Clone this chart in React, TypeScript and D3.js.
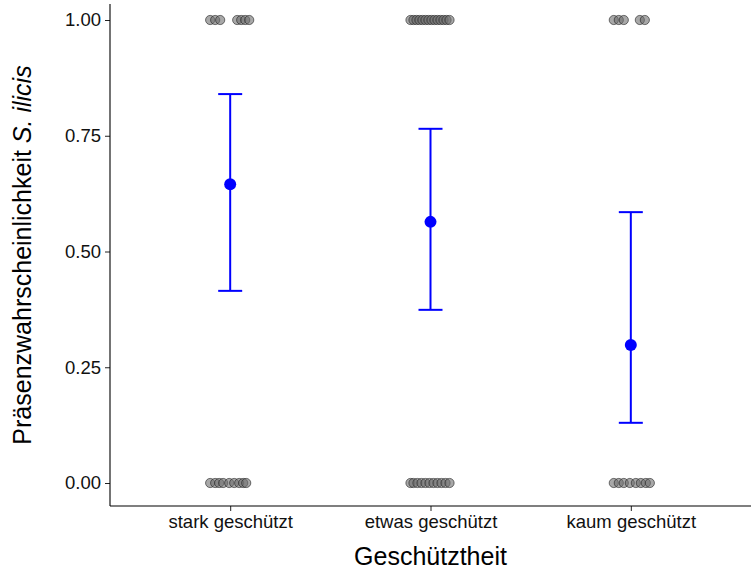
import React, { useEffect, useRef } from 'react';
import * as d3 from 'd3';

// categories on the x axis
const categories = ['stark geschützt', 'etwas geschützt', 'kaum geschützt'];

// model estimate with confidence interval per category
const estimates = [0.645, 0.564, 0.298];
const lowerCI = [0.415, 0.374, 0.13];
const upperCI = [0.84, 0.765, 0.585];

// observed presence (1) / absence (0), jitter offsets in category units
const jitterPresent = [
  [-0.1, -0.075, -0.05, 0.035, 0.055, 0.075, 0.095],
  [-0.1, -0.085, -0.07, -0.055, -0.04, -0.025, -0.01, 0.005, 0.02, 0.035, 0.05, 0.065, 0.08, 0.095],
  [-0.085, -0.06, -0.035, 0.045, 0.07],
];
const jitterAbsent = [
  [-0.1, -0.075, -0.055, -0.035, -0.005, 0.02, 0.045, 0.065, 0.08],
  [-0.1, -0.085, -0.065, -0.045, -0.025, -0.005, 0.015, 0.035, 0.055, 0.075, 0.095],
  [-0.085, -0.06, -0.035, -0.005, 0.025, 0.05, 0.075, 0.095],
];

const yTicks = [0, 0.25, 0.5, 0.75, 1];

const W = 756;
const H = 570;

function App() {
  const ref = useRef<SVGSVGElement>(null);

  useEffect(() => {
    const svg = d3.select(ref.current);
    svg.selectAll('*').remove();

    const left = 110, right = 751, bottom = 506;
    const y = d3.scaleLinear().domain([0, 1]).range([483, 20]);
    const x = d3.scaleLinear().domain([-0.6, 2.6]).range([left, right]);

    const font = 'Liberation Sans, Arial, sans-serif';

    // jittered observations
    const pts: { cx: number; v: number }[] = [];
    categories.forEach((c, i) => {
      jitterPresent[i].forEach(j => pts.push({ cx: i + j, v: 1 }));
      jitterAbsent[i].forEach(j => pts.push({ cx: i + j, v: 0 }));
    });
    svg.append('g').selectAll('circle')
      .data(pts)
      .enter()
      .append('circle')
      .attr('cx', d => x(d.cx))
      .attr('cy', d => y(d.v))
      .attr('r', 4.6)
      .style('fill', 'rgba(110,110,110,0.6)')
      .style('stroke', 'rgba(30,30,30,0.75)')
      .style('stroke-width', 0.8);

    // error bars
    const eb = svg.append('g');
    categories.forEach((c, i) => {
      const cx = x(i);
      eb.append('line').attr('x1', cx).attr('x2', cx)
        .attr('y1', y(lowerCI[i])).attr('y2', y(upperCI[i]))
        .style('stroke', '#0000ff').style('stroke-width', 2);
      [lowerCI[i], upperCI[i]].forEach(v => {
        eb.append('line').attr('x1', cx - 12).attr('x2', cx + 12)
          .attr('y1', y(v)).attr('y2', y(v))
          .style('stroke', '#0000ff').style('stroke-width', 2);
      });
      eb.append('circle').attr('cx', cx).attr('cy', y(estimates[i]))
        .attr('r', 6).style('fill', '#0000ff');
    });

    // y axis
    const yAxis = d3.axisLeft(y).tickValues(yTicks)
      .tickFormat(d3.format('.2f')).tickSize(5).tickPadding(4);
    const gy = svg.append('g').attr('transform', `translate(${left},0)`).call(yAxis);
    gy.select('.domain').remove();
    gy.append('line').attr('x1', 0).attr('x2', 0).attr('y1', 4).attr('y2', bottom)
      .style('stroke', '#000').style('stroke-width', 1.1);
    gy.selectAll('text').style('font-size', '18.5px').style('font-family', font).style('fill', '#111');
    gy.selectAll('.tick line').style('stroke', '#222');

    // x axis
    const xAxis = d3.axisBottom(x).tickValues([0, 1, 2])
      .tickFormat((d: any) => categories[d]).tickSize(5).tickPadding(4);
    const gx = svg.append('g').attr('transform', `translate(0,${bottom})`).call(xAxis);
    gx.select('.domain').remove();
    gx.append('line').attr('x1', left).attr('x2', right).attr('y1', 0).attr('y2', 0)
      .style('stroke', '#000').style('stroke-width', 1.1);
    gx.selectAll('text').style('font-size', '18.5px').style('font-family', font).style('fill', '#111');
    gx.selectAll('.tick line').style('stroke', '#222');

    // titles
    svg.append('text')
      .attr('x', (left + right) / 2).attr('y', 565)
      .attr('text-anchor', 'middle')
      .style('font-size', '25px').style('font-family', font).style('fill', '#000')
      .text('Geschütztheit');

    const yt = svg.append('text')
      .attr('transform', `translate(31,${(4 + bottom) / 2}) rotate(-90)`)
      .attr('text-anchor', 'middle')
      .style('font-size', '25px').style('font-family', font).style('fill', '#000');
    yt.append('tspan').text('Präsenzwahrscheinlichkeit ');
    yt.append('tspan').style('font-style', 'italic').text('S. ilicis');
  }, []);

  return (
    <svg ref={ref} width={W} height={H}
      style={{ position: 'absolute', left: 0, top: 0, background: '#fff' }} />
  );
}

export default App;
